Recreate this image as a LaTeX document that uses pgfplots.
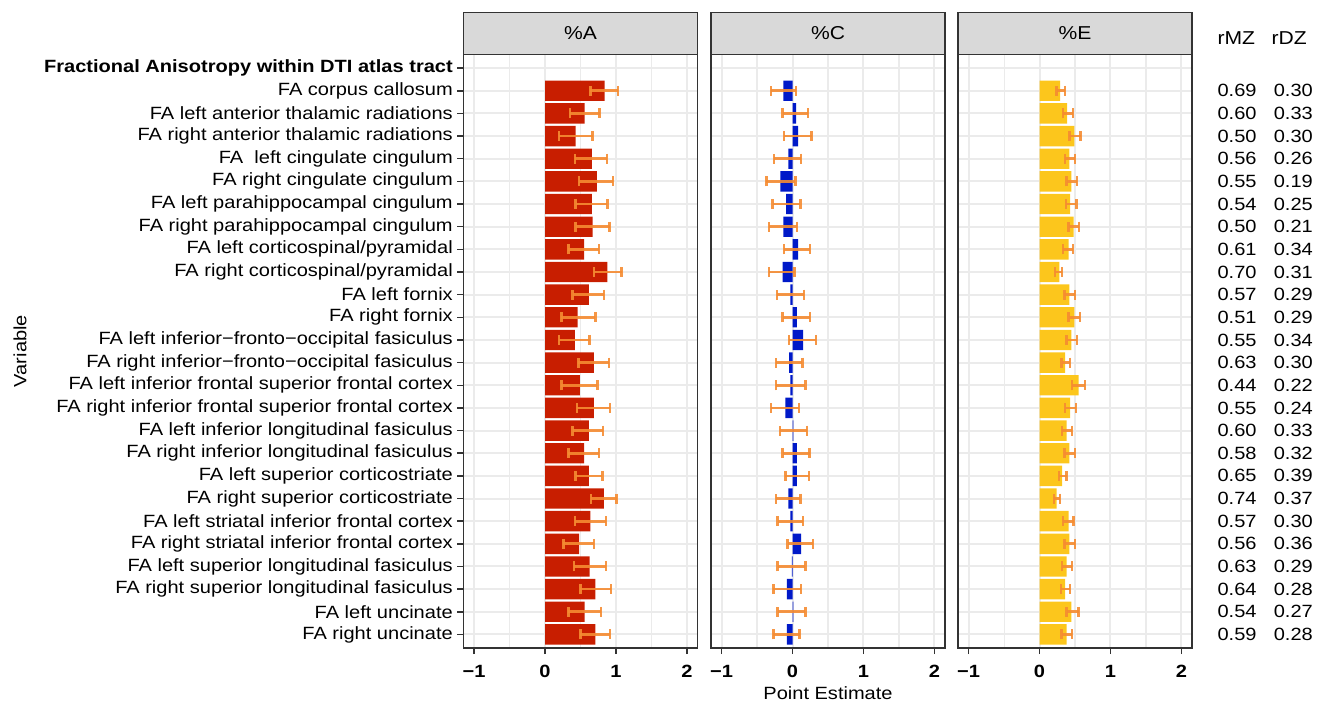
\documentclass[border=0pt]{standalone}
\usepackage{fontspec}
\setmainfont{Liberation Sans}[FakeStretch=1.13]
\usepackage{pgfplots}
\usepackage{pgfplotstable}
\pgfplotsset{compat=1.18}

\definecolor{barA}{RGB}{200,30,0}
\definecolor{barC}{RGB}{0,25,200}
\definecolor{barE}{RGB}{252,198,28}
\definecolor{errc}{RGB}{245,140,50}
\definecolor{gridc}{RGB}{235,235,235}
\definecolor{framec}{RGB}{51,51,51}
\definecolor{stripc}{RGB}{217,217,217}

\newcommand{\lbl}{\fontsize{13.3}{15}\selectfont}
\newcommand{\striptxt}{\fontsize{14}{16}\selectfont}

% estimate, lower, upper for %A, %C, %E; then rMZ and rDZ
\pgfplotstableread{
r a alo ahi c clo chi e elo ehi mz dz
1 0.84 0.64 1.03 -0.13 -0.30 0.05 0.29 0.24 0.36 0.69 0.30
2 0.56 0.35 0.77 0.05 -0.14 0.22 0.39 0.33 0.47 0.60 0.33
3 0.43 0.20 0.67 0.08 -0.12 0.27 0.49 0.42 0.58 0.50 0.30
4 0.66 0.42 0.87 -0.06 -0.26 0.12 0.42 0.36 0.50 0.56 0.26
5 0.73 0.48 0.96 -0.17 -0.37 0.04 0.45 0.38 0.53 0.55 0.19
6 0.66 0.43 0.88 -0.09 -0.28 0.11 0.43 0.37 0.52 0.54 0.25
7 0.67 0.43 0.91 -0.13 -0.33 0.06 0.48 0.41 0.56 0.50 0.21
8 0.55 0.33 0.76 0.08 -0.12 0.25 0.41 0.33 0.47 0.61 0.34
9 0.88 0.69 1.08 -0.14 -0.33 0.03 0.28 0.22 0.32 0.70 0.31
10 0.62 0.39 0.83 -0.03 -0.22 0.16 0.42 0.35 0.50 0.57 0.29
11 0.46 0.23 0.71 0.06 -0.14 0.25 0.49 0.41 0.57 0.51 0.29
12 0.42 0.20 0.63 0.15 -0.05 0.33 0.45 0.38 0.53 0.55 0.34
13 0.69 0.47 0.90 -0.05 -0.23 0.14 0.36 0.31 0.43 0.63 0.30
14 0.49 0.23 0.74 -0.03 -0.23 0.18 0.55 0.46 0.64 0.44 0.22
15 0.69 0.45 0.92 -0.10 -0.30 0.09 0.43 0.36 0.51 0.55 0.24
16 0.62 0.39 0.82 0.01 -0.18 0.20 0.38 0.32 0.46 0.60 0.33
17 0.55 0.33 0.76 0.06 -0.14 0.24 0.42 0.35 0.50 0.58 0.32
18 0.62 0.43 0.81 0.06 -0.10 0.23 0.32 0.27 0.38 0.65 0.39
19 0.83 0.65 1.01 -0.06 -0.23 0.11 0.24 0.20 0.29 0.74 0.37
20 0.64 0.42 0.86 -0.03 -0.21 0.15 0.41 0.33 0.48 0.57 0.30
21 0.48 0.26 0.69 0.12 -0.07 0.29 0.42 0.35 0.50 0.56 0.36
22 0.63 0.41 0.86 -0.01 -0.21 0.18 0.38 0.32 0.46 0.63 0.29
23 0.71 0.50 0.93 -0.08 -0.27 0.12 0.36 0.30 0.43 0.64 0.28
24 0.56 0.33 0.79 0.01 -0.21 0.18 0.45 0.38 0.55 0.54 0.27
25 0.71 0.50 0.92 -0.08 -0.27 0.10 0.38 0.31 0.46 0.59 0.28
}\dat

\pgfplotsset{
  panel/.style={
    scale only axis, width=175.5pt, height=445.1pt,
    anchor=south west, clip=false,
    xmin=-1.15, xmax=2.15, ymin=-0.6, ymax=25.6, y dir=reverse,
    xtick={-1,0,1,2}, xticklabels={−1,0,1,2},
    minor xtick={-0.5,0.5,1.5},
    ytick={0,...,25},
    grid=both,
    major grid style={gridc, line width=1.5pt},
    minor grid style={gridc, line width=0.9pt},
    axis line style={framec, line width=1.2pt},
    tick pos=left, tick align=outside,
    major tick length=4.5pt, minor tick length=0pt,
    tick style={framec, line width=1.1pt},
    xticklabel style={font=\lbl\bfseries, text=black, yshift=-5pt},
    yticklabel style={font=\lbl, text=black},
  },
  bars/.style={
    xbar, bar width=0.9, bar shift=0pt, fill=#1, draw=none,
    error bars/.cd, x dir=both, x explicit,
    error mark=|,
    error bar style={draw=errc, line width=2pt, opacity=0.9},
    error mark options={draw=errc, mark size=3.75pt, line width=1.8pt, opacity=0.9},
  },
}

\newcommand{\strip}[1]{%
  \draw[framec, fill=stripc, line width=1.2pt] (axis description cs:0,1) rectangle ([yshift=31.5pt]axis description cs:1,1);
  \node[font=\striptxt] at ([yshift=15.75pt]axis description cs:0.5,1) {#1};
}

\begin{document}
\begin{tikzpicture}
\useasboundingbox (0,0) rectangle (993.75pt,-528pt);

\begin{axis}[panel, at={(347.6pt,-486pt)},
  yticklabels={\textbf{Fractional Anisotropy within DTI atlas tract},
    FA corpus callosum,
    FA left anterior thalamic radiations,
    FA right anterior thalamic radiations,
    FA\ \ left cingulate cingulum,
    FA right cingulate cingulum,
    FA left parahippocampal cingulum,
    FA right parahippocampal cingulum,
    FA left corticospinal/pyramidal,
    FA right corticospinal/pyramidal,
    FA left fornix,
    FA right fornix,
    FA left inferior−fronto−occipital fasiculus,
    FA right inferior−fronto−occipital fasiculus,
    FA left inferior frontal superior frontal cortex,
    FA right inferior frontal superior frontal cortex,
    FA left inferior longitudinal fasiculus,
    FA right inferior longitudinal fasiculus,
    FA left superior corticostriate,
    FA right superior corticostriate,
    FA left striatal inferior frontal cortex,
    FA right striatal inferior frontal cortex,
    FA left superior longitudinal fasiculus,
    FA right superior longitudinal fasiculus,
    FA left uncinate,
    FA right uncinate}]
  \addplot[bars=barA] table[x=a, y=r,
    x error plus expr=\thisrow{ahi}-\thisrow{a},
    x error minus expr=\thisrow{a}-\thisrow{alo}] {\dat};
  \strip{\%A}
\end{axis}

\begin{axis}[panel, at={(533.25pt,-486pt)}, yticklabels={}, ytick style={draw=none},
  xlabel={Point Estimate}, xlabel style={font=\lbl}]
  \addplot[bars=barC] table[x=c, y=r,
    x error plus expr=\thisrow{chi}-\thisrow{c},
    x error minus expr=\thisrow{c}-\thisrow{clo}] {\dat};
  \strip{\%C}
\end{axis}

\begin{axis}[panel, at={(718.5pt,-486pt)}, yticklabels={}, ytick style={draw=none}]
  \addplot[bars=barE] table[x=e, y=r,
    x error plus expr=\thisrow{ehi}-\thisrow{e},
    x error minus expr=\thisrow{e}-\thisrow{elo}] {\dat};
  \strip{\%E}
  \addplot[draw=none, mark=none, nodes near coords, point meta=explicit symbolic,
    nodes near coords style={anchor=west, inner sep=0pt, font=\lbl, text=black}]
    table[x expr=2.507, y=r, meta=mz] {\dat};
  \addplot[draw=none, mark=none, nodes near coords, point meta=explicit symbolic,
    nodes near coords style={anchor=west, inner sep=0pt, font=\lbl, text=black}]
    table[x expr=3.30, y=r, meta=dz] {\dat};
  \node[anchor=west, inner sep=0pt, font=\striptxt] at (axis cs:2.507,-1.31) {rMZ};
  \node[anchor=west, inner sep=0pt, font=\striptxt] at (axis cs:3.27,-1.31) {rDZ};
\end{axis}

\node[rotate=90, font=\lbl] at (15pt,-263.25pt) {Variable};
\end{tikzpicture}
\end{document}
